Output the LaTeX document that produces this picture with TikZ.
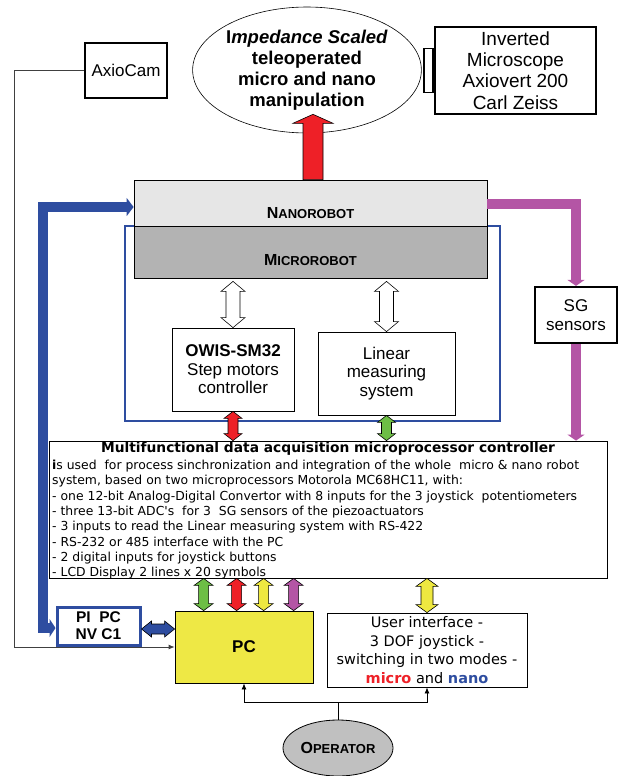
\documentclass[tikz,border=0pt]{standalone}
\usepackage{fontspec}
\setmainfont{Liberation Sans}
\newfontfamily\tah{DejaVu Sans}
\usetikzlibrary{calc,arrows.meta,shapes.geometric}
\definecolor{rbred}{HTML}{EE2027}
\definecolor{rbgreen}{HTML}{6DBE45}
\definecolor{rbyellow}{HTML}{EEE840}
\definecolor{rbmag}{HTML}{B455A5}
\definecolor{rbblue}{HTML}{2E4DA0}
\definecolor{nanogray}{HTML}{E6E6E6}
\definecolor{microgray}{HTML}{B3B3B3}
\definecolor{opgray}{HTML}{C0C0C0}
\definecolor{pcyellow}{HTML}{EEE845}
\newcommand\fs[2]{\fontsize{#1}{#2}\selectfont}
% vertical double block arrow: #1 top, #2 bottom, #3 colour, #4 shaft half, #5 head half, #6 head length
\newcommand\vdbl[6]{\filldraw[fill=#3,draw=black,line width=0.6pt] let \p1=(#1),\p2=(#2) in
 (\x1,\y1) -- (\x1+#5,\y1-#6) -- (\x1+#4,\y1-#6) -- (\x1+#4,\y2+#6) -- (\x1+#5,\y2+#6) -- (\x1,\y2)
 -- (\x1-#5,\y2+#6) -- (\x1-#4,\y2+#6) -- (\x1-#4,\y1-#6) -- (\x1-#5,\y1-#6) -- cycle;}
% vertical single up block arrow: #1 tip, #2 base
\newcommand\vup[6]{\filldraw[fill=#3,draw=black,line width=0.6pt] let \p1=(#1),\p2=(#2) in
 (\x1,\y1) -- (\x1+#5,\y1-#6) -- (\x1+#4,\y1-#6) -- (\x1+#4,\y2) -- (\x1-#4,\y2)
 -- (\x1-#4,\y1-#6) -- (\x1-#5,\y1-#6) -- cycle;}
% horizontal double block arrow: #1 left, #2 right
\newcommand\hdbl[6]{\filldraw[fill=#3,draw=black,line width=0.6pt] let \p1=(#1),\p2=(#2) in
 (\x1,\y1) -- (\x1+#6,\y1+#5) -- (\x1+#6,\y1+#4) -- (\x2-#6,\y1+#4) -- (\x2-#6,\y1+#5) -- (\x2,\y1)
 -- (\x2-#6,\y1-#5) -- (\x2-#6,\y1-#4) -- (\x1+#6,\y1-#4) -- (\x1+#6,\y1-#5) -- cycle;}
\begin{document}
\begin{tikzpicture}[x=1pt,y=-1pt,
  box/.style={draw, inner sep=0pt, align=center},
  thickbox/.style={box, line width=2.2pt},
  thinbox/.style={box, line width=0.8pt},
  thinline/.style={line width=0.8pt}]
\useasboundingbox (0,0) rectangle (618,776);

% top row
\node[thickbox, minimum width=82pt, minimum height=55pt, font=\fs{17}{20}] (axio) at (126,70.5) {AxioCam};
\node[draw, ellipse, line width=0.6pt, minimum width=228pt, minimum height=126pt, inner sep=0pt, align=center,
      font=\bfseries\fs{18.5}{21}] (goal) at (307,70)
      {I\textit{mpedance Scaled}\\teleoperated\\micro and nano\\manipulation};
\node[thickbox, minimum width=161pt, minimum height=87pt, font=\fs{19}{21.3}] (mic) at (515.5,70.5)
      {Inverted\\Microscope\\Axiovert 200\\Carl Zeiss};
\node[draw, line width=1.5pt, minimum width=9pt, minimum height=44pt, inner sep=0pt, anchor=east] (tab) at (mic.west) {};

% robot block
\node[draw=rbblue, line width=2pt, minimum width=375pt, minimum height=195pt, inner sep=0pt] (frame) at (312.5,323.5) {};
\node[thinbox, fill=nanogray, minimum width=353pt, minimum height=46pt] (nano) at (310.5,203) {};
\node[inner sep=0pt] (nanolbl) at (310.5,213) {\bfseries\fs{16}{16}N\fs{13}{13}ANOROBOT};
\node[thinbox, fill=microgray, minimum width=353pt, minimum height=52pt] (micro) at (310.5,252) {};
\node[inner sep=0pt] (microlbl) at (310.5,260) {\bfseries\fs{16}{16}M\fs{13}{13}ICROROBOT};
\node[thinbox, minimum width=122pt, minimum height=83pt, font=\fs{17}{18.5}] (owis) at (233,369.5)
      {\textbf{OWIS-SM32}\\Step motors\\controller};
\node[thinbox, minimum width=137pt, minimum height=83pt, font=\fs{17}{18.5}] (lin) at (386.5,373.5)
      {Linear\\measuring\\system};
\node[thickbox, minimum width=82pt, minimum height=56pt, font=\fs{17}{19}] (sg) at (576,315) {SG\\sensors};

% controller
\node[thinbox, minimum width=558pt, minimum height=137pt] (ctrl) at (328,509.5) {};
\node[inner sep=0pt, font=\tah\bfseries\fs{13.8}{15}] (ctitle) at (328,449)
      {Multifunctional data acquisition microprocessor controller};
\node[anchor=north west, inner sep=0pt] (cbody) at (52,460)
      {\parbox[t]{550pt}{\raggedright\tah\fs{12.4}{15.3}%
       \textbf{i}s used\ \ for process sinchronization and integration of the whole\ \ micro \& nano robot\\
       system, based on two microprocessors Motorola MC68HC11, with:\\
       - one 12-bit Analog-Digital Convertor with 8 inputs for the 3 joystick\ \ potentiometers\\
       - three 13-bit ADC's\ \ for 3\ \ SG sensors of the piezoactuators\\
       - 3 inputs to read the Linear measuring system with RS-422\\
       - RS-232 or 485 interface with the PC\\
       - 2 digital inputs for joystick buttons\\
       - LCD Display 2 lines x 20 symbols}};

% bottom row
\node[box, draw=rbblue, line width=3pt, minimum width=83pt, minimum height=38pt, font=\bfseries\fs{15.5}{17}] (pi) at (98.5,626)
      {PI\ \ PC\\NV C1};
\node[thinbox, fill=pcyellow, minimum width=138pt, minimum height=72pt, font=\bfseries\fs{17}{18}] (pc) at (244,647) {PC};
\node[thinbox, minimum width=200pt, minimum height=74pt, font=\tah\fs{14.5}{18.5}] (ui) at (427,650)
      {User interface -\\3 DOF joystick -\\switching in two modes -\\
       \textcolor{rbred}{\bfseries micro} and \textcolor{rbblue}{\bfseries nano}};
\node[draw, ellipse, fill=opgray, line width=0.8pt, minimum width=110pt, minimum height=56pt, inner sep=0pt] (op) at (338,748)
      {\bfseries\fs{16}{16}O\fs{13}{13}PERATOR};

% helper coordinates
\coordinate (ax1) at (14,70.5);
\coordinate (ax2) at (14,647);
\coordinate (bl1) at (43,628);
\coordinate (bl2) at (43,207);
\coordinate (opj) at (338,702);
\coordinate (pa1) at ($(pc.north west)+(29,0)$);
\coordinate (pa2) at ($(pc.north west)+(62,0)$);
\coordinate (pa3) at ($(pc.north west)+(89,0)$);
\coordinate (pa4) at ($(pc.north west)+(119,0)$);

% connectors
\draw[black!75, thinline, -{Latex[length=6pt,width=5pt]}] (axio.west) -- (ax1) -- (ax2) -- (pc.west);
\vup{$(goal.south)+(6,-19)$}{$(nano.north)+(2.5,0)$}{rbred}{10pt}{20pt}{9pt}
\vdbl{$(owis.north |- micro.south)+(0,3)$}{owis.north}{white}{7pt}{12pt}{10pt}
\vdbl{$(lin.north |- micro.south)+(0,3)$}{lin.north}{white}{7pt}{12pt}{10pt}
\vdbl{owis.south}{owis.south |- ctrl.north}{rbred}{5pt}{9pt}{7pt}
\vdbl{lin.south}{lin.south |- ctrl.north}{rbgreen}{5pt}{9pt}{7pt}
\draw[rbmag, line width=10pt, line join=miter, -{Triangle[length=6pt,width=17pt]}]
     ([yshift=-1pt]nano.east) -- ([yshift=-1pt]nano.east -| sg.north) -- (sg.north);
\draw[rbmag, line width=10pt, -{Triangle[length=6pt,width=17pt]}] (sg.south) -- (sg.south |- ctrl.north);
\draw[rbblue, line width=10pt, line join=miter,
      {Triangle[length=6pt,width=18pt]}-{Triangle[length=7pt,width=18pt]}]
     ([yshift=-2pt]pi.west) -- (bl1) -- (bl2) -- ([yshift=-4pt]nano.west);
\hdbl{$(pi.east)+(0,3)$}{$(pc.west |- pi.east)+(0,3)$}{rbblue}{5pt}{8pt}{10pt}
\vdbl{pa1 |- ctrl.south}{pa1}{rbgreen}{5pt}{9.5pt}{7pt}
\vdbl{pa2 |- ctrl.south}{pa2}{rbred}{5pt}{9.5pt}{7pt}
\vdbl{pa3 |- ctrl.south}{pa3}{rbyellow}{5pt}{9.5pt}{7pt}
\vdbl{pa4 |- ctrl.south}{pa4}{rbmag}{5pt}{9.5pt}{7pt}
\vdbl{ui.north |- ctrl.south}{ui.north}{rbyellow}{6pt}{11pt}{8pt}
\draw[thinline] (op.north) -- (opj);
\draw[thinline, -{Latex[length=6pt,width=5pt]}] (opj) -| (pc.south);
\draw[thinline, -{Latex[length=6pt,width=5pt]}] (opj) -| (ui.south);
\end{tikzpicture}
\end{document}
